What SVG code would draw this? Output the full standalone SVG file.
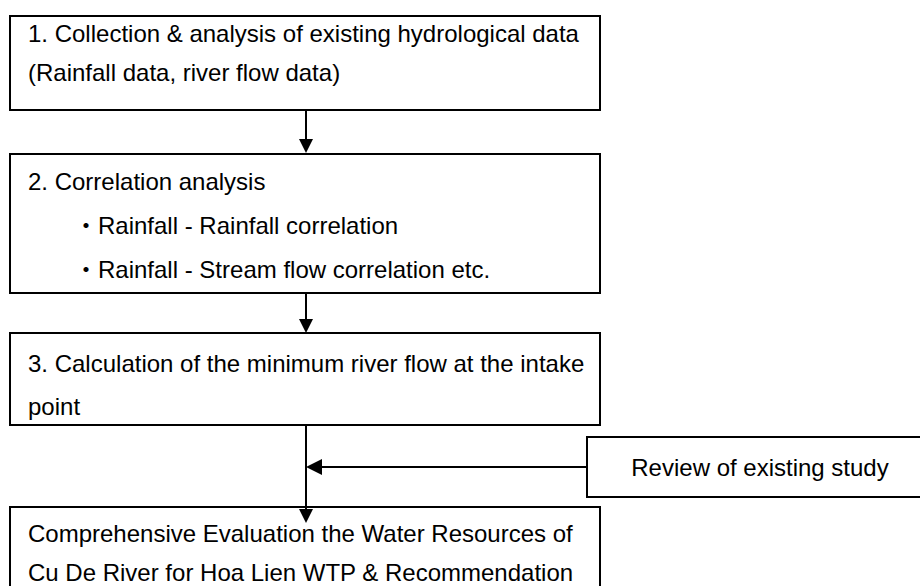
<svg xmlns="http://www.w3.org/2000/svg" width="920" height="586" viewBox="0 0 920 586">
<style>
.box{fill:#fff;stroke:#000;stroke-width:2}
.t{font-family:"Liberation Sans",Arial,"Noto Sans CJK JP",sans-serif;font-size:24px;fill:#000}
.c{stroke:#000;stroke-width:2;fill:none}
.ah{fill:#000}
</style>
<rect width="920" height="586" fill="#fff"/>
<g id="n1">
<rect class="box" x="10" y="16" width="590" height="94"/>
<text class="t" x="28" y="42">1. Collection &amp; analysis of existing hydrological data</text>
<text class="t" x="28" y="81">(Rainfall data, river flow data)</text>
</g>
<g id="n2">
<rect class="box" x="10" y="154" width="590" height="139"/>
<text class="t" x="28" y="190">2. Correlation analysis</text>
<text class="t" x="74" y="234">・Rainfall - Rainfall correlation</text>
<text class="t" x="74" y="278">・Rainfall - Stream flow correlation etc.</text>
</g>
<g id="n3">
<rect class="box" x="10" y="333" width="590" height="92"/>
<text class="t" x="28" y="372">3. Calculation of the minimum river flow at the intake</text>
<text class="t" x="28" y="415">point</text>
</g>
<g id="n4">
<rect class="box" x="10" y="507" width="590" height="90"/>
<text class="t" x="28" y="542">Comprehensive Evaluation the Water Resources of</text>
<text class="t" x="28" y="581">Cu De River for Hoa Lien WTP &amp; Recommendation</text>
</g>
<g id="n5">
<rect class="box" x="587" y="437" width="340" height="60"/>
<text class="t" x="760" y="476" text-anchor="middle">Review of existing study</text>
</g>
<g id="connectors">
<line class="c" x1="306" y1="110" x2="306" y2="140"/>
<polygon class="ah" points="299,139 313,139 306,153"/>
<line class="c" x1="306" y1="293" x2="306" y2="320"/>
<polygon class="ah" points="299,319 313,319 306,333"/>
<line class="c" x1="306" y1="425" x2="306" y2="510"/>
<polygon class="ah" points="299,509 313,509 306,523"/>
<line class="c" x1="587" y1="467" x2="320" y2="467"/>
<polygon class="ah" points="306,467 322,459 322,475"/>
</g>
</svg>
